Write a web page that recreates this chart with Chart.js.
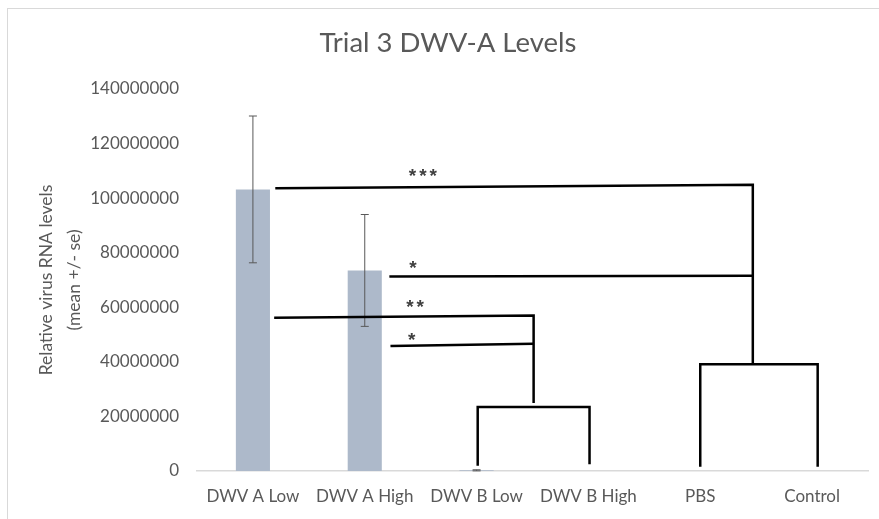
<!DOCTYPE html>
<html lang="en">
<head>
    <meta charset="UTF-8">
    <title>Trial 3 DWV-A Levels</title>
    <style>
        body { margin: 0; background: white; overflow: hidden; }
        .frame { position: absolute; left: 7px; top: 8px; width: 900px; height: 600px; border: 1px solid #d9d9d9; }
        #chart { position: absolute; left: 0; top: 0; }
    </style>
</head>
<body>
    <div class="frame"></div>
    <canvas id="chart" width="879" height="519"></canvas>

    <script src="https://cdn.jsdelivr.net/npm/chart.js"></script>
    <script>
        // Data
        const categories = ['DWV A Low', 'DWV A High', 'DWV B Low', 'DWV B High', 'PBS', 'Control'];
        const means = [103200000, 73500000, 250000, 0, 0, 0];
        const errors = [26900000, 20500000, 200000, 0, 0, 0];
        const yTicks = [0, 20000000, 40000000, 60000000, 80000000, 100000000, 120000000, 140000000];

        // Significance brackets: [category position, value] points
        const brackets = [
            [[0.20, 103600000], [4.47, 104900000], [4.47, 39500000]],
            [[4.00, 1600000], [4.00, 39100000], [5.05, 39100000], [5.05, 1600000]],
            [[1.22, 71300000], [4.47, 71600000]],
            [[0.19, 56200000], [2.51, 57000000], [2.51, 24900000]],
            [[1.23, 45800000], [2.51, 46600000]],
            [[2.01, 1900000], [2.01, 23500000], [3.01, 23500000], [3.01, 2500000]]
        ];
        const starLabels = [
            { text: '***', x: 1.52, y: 109300000 },
            { text: '*', x: 1.43, y: 75700000 },
            { text: '**', x: 1.45, y: 61400000 },
            { text: '*', x: 1.42, y: 49300000 }
        ];

        const textColor = '#595959';
        const fontFamily = 'Lato, "Liberation Sans", sans-serif';

        // Error bars drawn through the scales
        const errorBars = {
            id: 'errorBars',
            afterDatasetsDraw(chart) {
                const ctx = chart.ctx;
                const xs = chart.scales.x, ys = chart.scales.y;
                ctx.save();
                ctx.strokeStyle = '#595959';
                ctx.lineWidth = 1;
                means.forEach((m, i) => {
                    if (!errors[i]) return;
                    const x = xs.getPixelForValue(i);
                    const top = ys.getPixelForValue(m + errors[i]);
                    const bot = ys.getPixelForValue(m - errors[i]);
                    ctx.beginPath();
                    ctx.moveTo(x, top); ctx.lineTo(x, bot);
                    ctx.moveTo(x - 4, top); ctx.lineTo(x + 4, top);
                    ctx.moveTo(x - 4, bot); ctx.lineTo(x + 4, bot);
                    ctx.stroke();
                });
                ctx.restore();
            }
        };

        // Brackets and stars
        const sigMarks = {
            id: 'sigMarks',
            afterDraw(chart) {
                const ctx = chart.ctx;
                const xs = chart.scales.x, ys = chart.scales.y;
                ctx.save();
                ctx.strokeStyle = '#000';
                ctx.lineWidth = 2.5;
                ctx.lineJoin = 'miter';
                brackets.forEach(pts => {
                    ctx.beginPath();
                    pts.forEach(([cx, v], k) => {
                        const px = xs.getPixelForValue(cx), py = ys.getPixelForValue(v);
                        if (k === 0) ctx.moveTo(px, py); else ctx.lineTo(px, py);
                    });
                    ctx.stroke();
                });
                ctx.fillStyle = '#404040';
                ctx.font = 'bold 19px "Liberation Sans", sans-serif';
                ctx.letterSpacing = '3px';
                ctx.textAlign = 'center';
                ctx.textBaseline = 'middle';
                starLabels.forEach(s => {
                    ctx.fillText(s.text, xs.getPixelForValue(s.x) + 1.5, ys.getPixelForValue(s.y) + 4);
                });
                ctx.restore();
            }
        };

        new Chart(document.getElementById('chart'), {
            type: 'bar',
            data: {
                labels: categories,
                datasets: [{
                    data: means,
                    backgroundColor: '#adb9ca',
                    barPercentage: 0.305,
                    categoryPercentage: 1
                }]
            },
            options: {
                responsive: false,
                animation: false,
                layout: { padding: { left: 28, right: 11, top: 0, bottom: 0 } },
                plugins: {
                    legend: { display: false },
                    tooltip: { enabled: false },
                    title: {
                        display: true,
                        text: 'Trial 3 DWV-A Levels',
                        color: textColor,
                        font: { family: fontFamily, size: 27.5, weight: 'normal' },
                        padding: { top: 27, bottom: 29 }
                    }
                },
                scales: {
                    x: {
                        grid: { display: false, drawTicks: false },
                        border: { color: '#d9d9d9', width: 1.5 },
                        ticks: { color: textColor, font: { family: fontFamily, size: 17 }, padding: 15, maxRotation: 0 },
                        afterFit(scale) { scale.height = 48; }
                    },
                    y: {
                        min: 0,
                        max: 140000000,
                        afterBuildTicks(scale) { scale.ticks = yTicks.map(v => ({ value: v })); },
                        grid: { display: false, drawTicks: false },
                        border: { display: false },
                        ticks: {
                            color: textColor,
                            font: { family: fontFamily, size: 17 },
                            padding: 18,
                            callback: v => String(v)
                        },
                        title: {
                            display: true,
                            text: ['Relative virus RNA levels', '(mean +/- se)'],
                            color: textColor,
                            font: { family: fontFamily, size: 17.5, lineHeight: 1.56 },
                            padding: { top: 5, bottom: 0 }
                        },
                        afterFit(scale) { scale.width = 169; }
                    }
                }
            },
            plugins: [errorBars, sigMarks]
        });
    </script>
</body>
</html>
